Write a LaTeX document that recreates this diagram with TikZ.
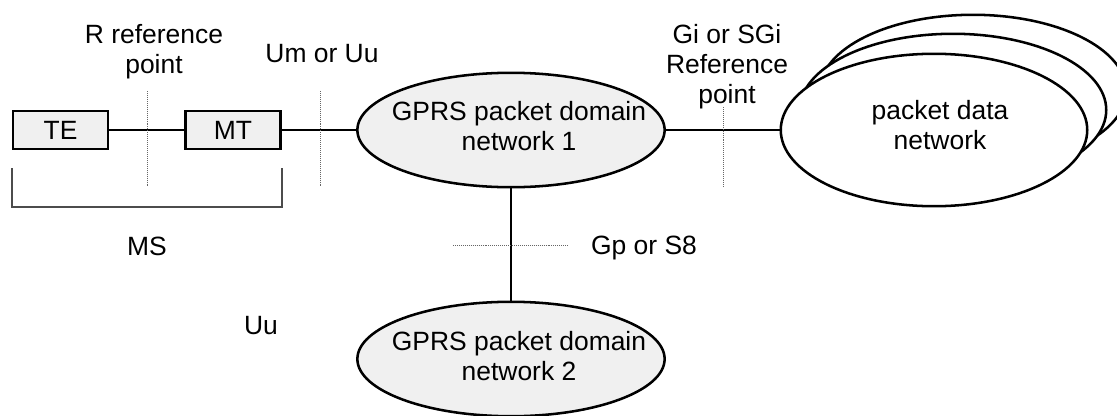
\documentclass[tikz,border=0pt]{standalone}
\usepackage{fontspec}
\setmainfont{Liberation Sans}
\usetikzlibrary{shapes.geometric}
\definecolor{netgray}{gray}{0.94}
\begin{document}
\begin{tikzpicture}[x=0.025cm, y=-0.025cm,
    every node/.style={font=\fontsize{18.8}{21.3}\selectfont},
    unit/.style={draw, fill=netgray, line width=1.8pt, minimum width=2.38cm, minimum height=0.96cm, inner sep=0pt},
    netw/.style={ellipse, draw, fill=netgray, line width=1.8pt, minimum width=7.68cm, minimum height=2.86cm, inner sep=0pt},
    pdnet/.style={ellipse, draw, fill=white, line width=1.8pt, minimum width=7.66cm, minimum height=3.81cm, inner sep=0pt},
    lbl/.style={align=center, inner sep=0pt},
    refpt/.style={black!60, line width=0.6pt, dash pattern=on 0.6pt off 0.8pt},
    link/.style={line width=1.8pt}]
    \useasboundingbox (0,0) rectangle (1117,415);
    \clip (0,0) rectangle (1117,415);
    \node[unit] (te) at (60.5,130) {TE};
    \node[unit] (mt) at (233,130) {MT};
    \node[netw] (gprs1) at (511,130) {};
    \node[netw] (gprs2) at (511,359) {};
    \node[pdnet] (pdn3) at (973,91) {};
    \node[pdnet] (pdn2) at (953,110) {};
    \node[pdnet] (pdn1) at (934,130) {};
    \node[lbl] (gprs1txt) at (519,126) {GPRS packet domain\\network 1};
    \node[lbl] (gprs2txt) at (519,356) {GPRS packet domain\\network 2};
    \node[lbl] (pdntxt) at (940,125) {packet data\\network};
    \draw[link] (te) -- (mt);
    \draw[link] (mt) -- (gprs1);
    \draw[link] (gprs1) -- (pdn1);
    \draw[link] (gprs1) -- (gprs2);
    \draw[refpt] (147,91) -- (147,187);
    \draw[refpt] (320,91) -- (320,187);
    \draw[refpt] (723,107) -- (723,187);
    \draw[refpt] (453,245) -- (569,245);
    \draw[black!70, line width=1.2pt] (12,168) -- (12,207) -- (282,207) -- (282,168);
    \node[lbl] (rref) at (154,52) {R reference\\point};
    \node[lbl] (umuu) at (322,54) {Um or Uu};
    \node[lbl] (giref) at (727,67) {Gi or SGi\\Reference\\point};
    \node[lbl] (ms) at (147,246) {MS};
    \node[lbl] (uu) at (261,326) {Uu};
    \node[lbl] (gps8) at (644,248) {Gp or S8};
\end{tikzpicture}
\end{document}
